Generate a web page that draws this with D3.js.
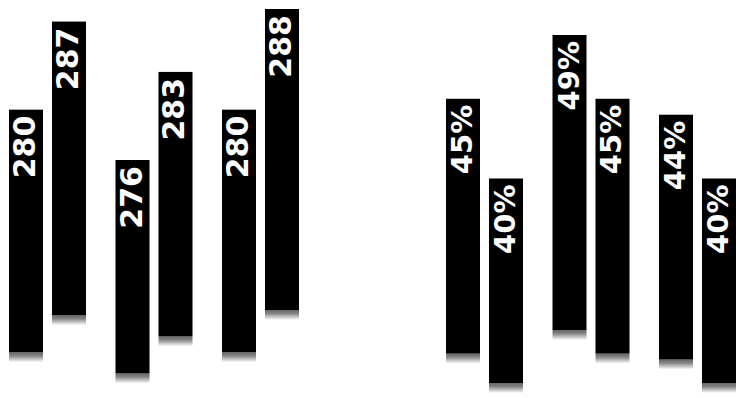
<!DOCTYPE html>
<html>
<head>
<meta charset="utf-8">
<script src="https://cdn.jsdelivr.net/npm/d3@7"></script>
<style>
  html, body { margin: 0; padding: 0; background: #fff; }
  svg { display: block; }
</style>
</head>
<body>
<svg id="chart" width="742" height="398"></svg>
<script>
// ---- data ----
const groups = ["Group 1", "Group 2", "Group 3"];
const series = ["Series A", "Series B"];
const leftValues = [[280, 287], [276, 283], [280, 288]];
const leftLabels = [["280", "287"], ["276", "283"], ["280", "288"]];
const rightValues = [[45, 40], [49, 45], [44, 40]];
const rightLabels = [["45%", "40%"], ["49%", "45%"], ["44%", "40%"]];

const svg = d3.select("#chart");
const defs = svg.append("defs");
const grad = defs.append("linearGradient")
  .attr("id", "fade").attr("x1", 0).attr("y1", 0).attr("x2", 0).attr("y2", 1);
grad.append("stop").attr("offset", "0%").attr("stop-color", "#000");
grad.append("stop").attr("offset", "35%").attr("stop-color", "#333");
grad.append("stop").attr("offset", "100%").attr("stop-color", "#fff");

function panel(cfg) {
  const x0 = d3.scaleBand().domain(groups).range(cfg.xRange).paddingInner(0.277).paddingOuter(0);
  const x1 = d3.scaleBand().domain(series).range([0, x0.bandwidth()]).paddingInner(0.209).paddingOuter(0);
  const y = d3.scaleLinear().domain(cfg.yDomain).range(cfg.yRange);
  const fadeY = v => cfg.fadeBase + (y(v) - cfg.fadeRef) * cfg.fadeK;

  const g = svg.append("g");
  const items = [];
  groups.forEach((gr, i) => series.forEach((s, j) => items.push({
    group: gr, series: s, value: cfg.values[i][j], label: cfg.labels[i][j]
  })));

  const bar = g.selectAll("g.bar").data(items).join("g").attr("class", "bar")
    .attr("transform", d => `translate(${x0(d.group) + x1(d.series)},0)`);

  bar.append("rect")
    .attr("x", 0).attr("width", x1.bandwidth())
    .attr("y", d => y(d.value))
    .attr("height", d => fadeY(d.value) - y(d.value))
    .attr("fill", "#000");

  bar.append("rect")
    .attr("x", 0).attr("width", x1.bandwidth())
    .attr("y", d => fadeY(d.value))
    .attr("height", 10)
    .attr("fill", "url(#fade)")
    .attr("opacity", 0.6);

  bar.append("text")
    .attr("transform", d => `translate(${x1.bandwidth() / 2 + 9},${y(d.value) + 6}) rotate(-90)`)
    .attr("text-anchor", "end")
    .attr("fill", "#fff")
    .attr("font-family", "DejaVu Sans")
    .attr("font-weight", "bold")
    .attr("font-size", cfg.fontSize)
    .text(d => d.label);
}

panel({
  xRange: [9, 299], yDomain: [276, 288], yRange: [160, 9],
  values: leftValues, labels: leftLabels,
  fadeBase: 310, fadeRef: 9, fadeK: 0.42, fontSize: 30
});
panel({
  xRange: [446, 736], yDomain: [40, 49], yRange: [178.5, 35],
  values: rightValues, labels: rightLabels,
  fadeBase: 330, fadeRef: 35, fadeK: 0.37, fontSize: 29
});
</script>
</body>
</html>
